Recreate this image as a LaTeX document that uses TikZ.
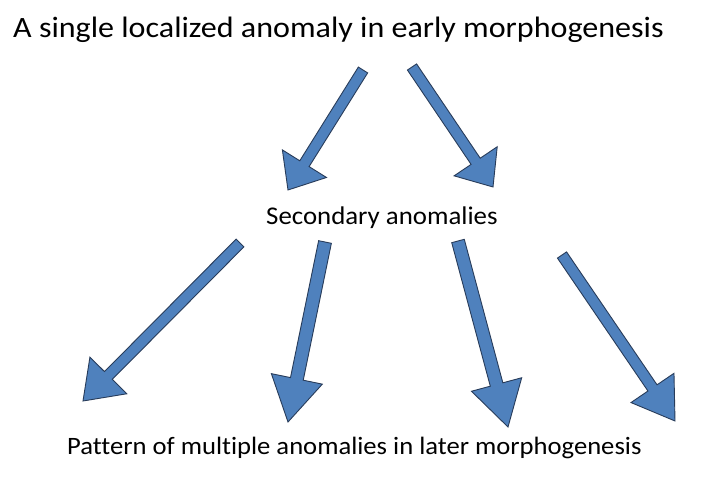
\documentclass[tikz,border=0pt]{standalone}
\usepackage{fontspec}
\setmainfont{Carlito}[Ligatures=NoCommon]
\usetikzlibrary{calc}
\definecolor{arrowfill}{RGB}{79,129,189}
\definecolor{arrowline}{RGB}{40,60,90}
\tikzset{
  barrow/.style={fill=arrowfill, draw=arrowline, line width=0.9pt, line join=miter},
  txt/.style={inner sep=0pt, anchor=base west, text=black}
}
% #1 tail coordinate, #2 tip coordinate, #3 half shaft width, #4 half head width, #5 head length (pt)
\newcommand\blockarrow[5]{%
  \path ($(#2)!#5pt!(#1)$) coordinate (hb);
  \draw[barrow] ($(#1)!#3pt!90:(#2)$) -- ($(hb)!#3pt!-90:(#1)$) -- ($(hb)!#4pt!-90:(#1)$) -- (#2)
     -- ($(hb)!#4pt!90:(#1)$) -- ($(hb)!#3pt!90:(#1)$) -- ($(#1)!#3pt!-90:(#2)$) -- cycle;
}
\begin{document}
\begin{tikzpicture}[x=1pt,y=1pt]
\useasboundingbox (0,0) rectangle (723,481);
\fill[white] (0,0) rectangle (723,481);
\node[txt, font=\fontsize{29.5}{33}\selectfont] (top) at (13,481-38) {\scalebox{1.087}[1]{A single localized anomaly in early morphogenesis}};
\node[txt, font=\fontsize{25.5}{29}\selectfont] (mid) at (266,481-225) {\scalebox{1.053}[1]{Secondary anomalies}};
\node[txt, font=\fontsize{25}{28}\selectfont] (bot) at (67,481-455) {\scalebox{1.065}[1]{Pattern of multiple anomalies in later morphogenesis}};
% arrow end points
\coordinate (a1s) at (363,481-70);
\coordinate (a1e) at (288,481-190);
\coordinate (a2s) at (412,481-67);
\coordinate (a2e) at (493,481-187);
\coordinate (b1s) at (240,481-243);
\coordinate (b1e) at (83,481-401);
\coordinate (b2s) at (325,481-242);
\coordinate (b2e) at (288,481-422);
\coordinate (b3s) at (458,481-241);
\coordinate (b3e) at (508,481-427);
\coordinate (b4s) at (562,481-255);
\coordinate (b4e) at (675,481-421);
\blockarrow{a1s}{a1e}{5.5}{26}{31}
\blockarrow{a2s}{a2e}{5.5}{26}{31}
\blockarrow{b1s}{b1e}{5.5}{26}{36}
\blockarrow{b2s}{b2e}{6.5}{26}{44}
\blockarrow{b3s}{b3e}{6.5}{26}{44}
\blockarrow{b4s}{b4e}{5.5}{26}{40}
\end{tikzpicture}
\end{document}
